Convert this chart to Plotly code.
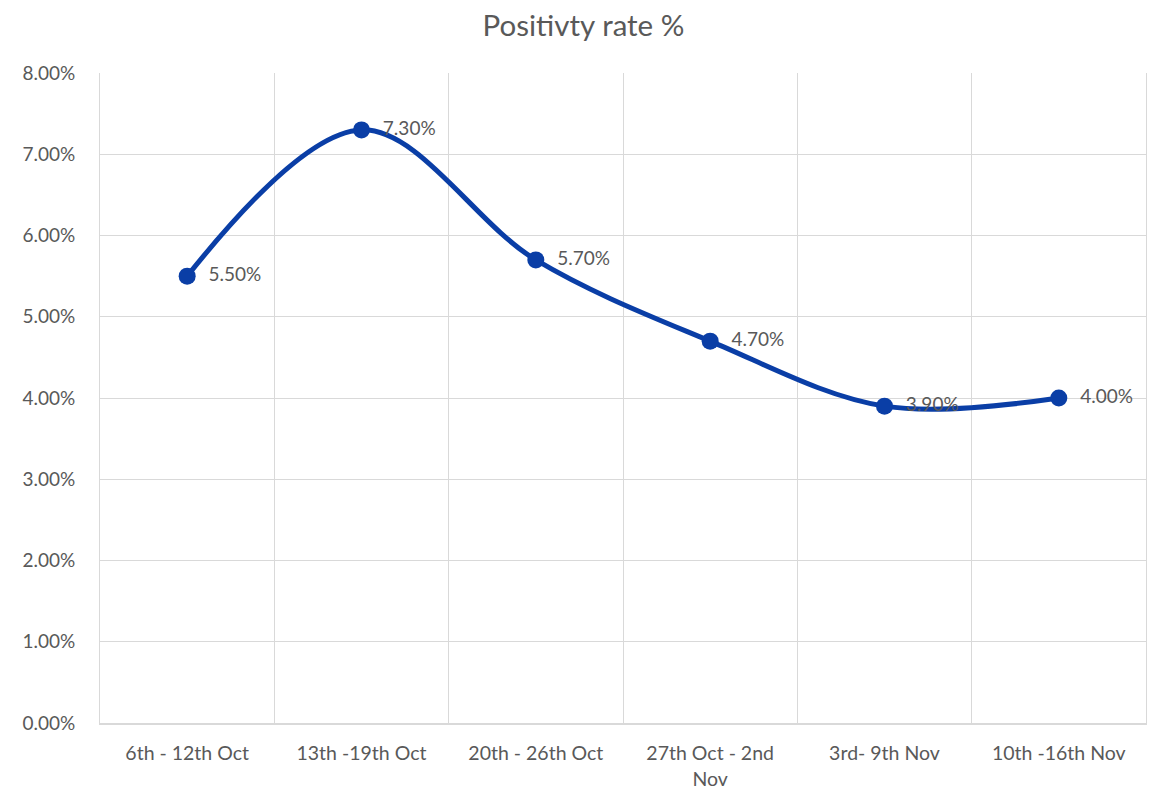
import plotly.graph_objects as go

categories = ["6th - 12th Oct", "13th -19th Oct", "20th - 26th Oct",
              "27th Oct - 2nd Nov", "3rd- 9th Nov", "10th -16th Nov"]
tick_labels = ["6th - 12th Oct", "13th -19th Oct", "20th - 26th Oct",
               "27th Oct - 2nd<br>Nov", "3rd- 9th Nov", "10th -16th Nov"]
positivity = [0.055, 0.073, 0.057, 0.047, 0.039, 0.040]
labels = ["\u00a0\u00a0" + f"{v*100:.2f}%" for v in positivity]

FONT = "Lato, Open Sans, sans-serif"
GREY = "#595959"
LINE = "#0A3EA6"

# page body has an 8px margin, so the figure is sized to fit the window
W, H = 1151, 784

fig = go.Figure()
fig.add_trace(go.Scatter(
    x=categories, y=positivity,
    mode="lines+markers+text",
    line=dict(color=LINE, width=5, shape="spline", smoothing=1),
    marker=dict(color=LINE, size=17),
    text=labels, textposition="middle right",
    textfont=dict(family=FONT, size=19, color=GREY),
    cliponaxis=False, hoverinfo="skip",
))

fig.update_layout(
    width=W, height=H,
    margin=dict(l=92, r=13, t=65, b=69, autoexpand=False),
    paper_bgcolor="white", plot_bgcolor="white",
    showlegend=False,
    title=dict(text="Positivty rate %", x=0.5, xanchor="center",
               y=1 - 18/H, yanchor="middle",
               font=dict(family=FONT, size=29.5, color=GREY)),
    font=dict(family=FONT, size=19, color=GREY),
)
fig.update_xaxes(
    type="category", tickmode="array", tickvals=categories, ticktext=tick_labels,
    tickson="boundaries", showgrid=True, gridcolor="#D9D9D9", gridwidth=1,
    showline=True, linecolor="#D9D9D9", linewidth=1.5,
    ticks="", ticklabelstandoff=12, automargin=False,
    tickfont=dict(family=FONT, size=19.5, color=GREY),
    range=[-0.5, 5.5],
)
fig.update_yaxes(
    range=[0, 0.08], dtick=0.01, tickformat=".2%",
    showgrid=True, gridcolor="#D9D9D9", gridwidth=1,
    zeroline=False, showline=True, mirror=True, linecolor="#D9D9D9", linewidth=1,
    ticks="", ticklabelstandoff=20, automargin=False,
    tickfont=dict(family=FONT, size=19, color=GREY),
)

fig.write_html("out.html")
